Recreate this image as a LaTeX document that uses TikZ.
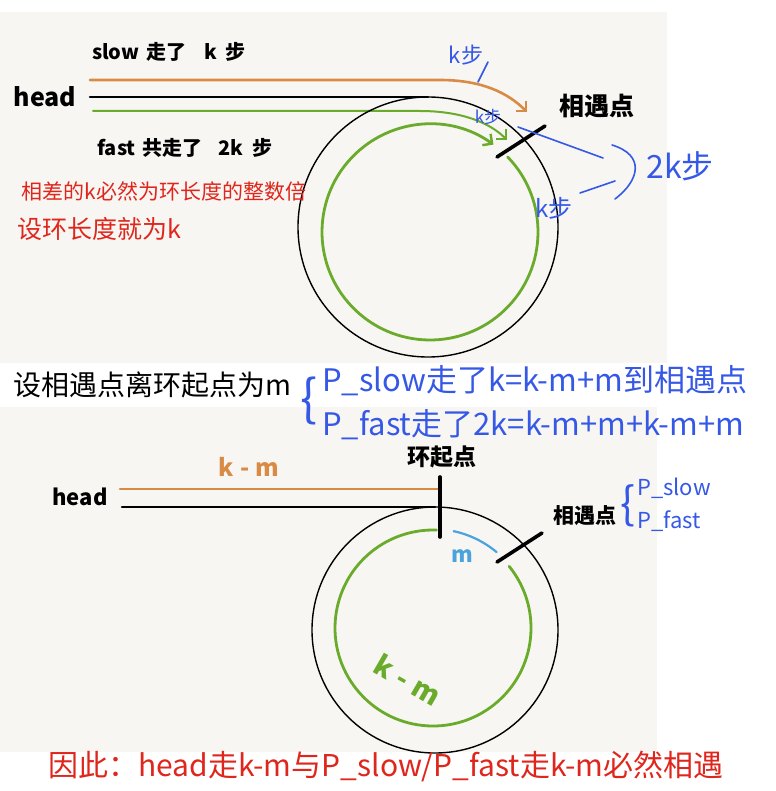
\documentclass[tikz,border=0pt]{standalone}
\usepackage{fontspec}
\setmainfont{Noto Sans CJK SC}
\usetikzlibrary{arrows.meta,positioning}

\definecolor{panelbg}{HTML}{F7F6F2}
\definecolor{pathorange}{HTML}{D98B46}
\definecolor{pathgreen}{HTML}{6AAB2C}
\definecolor{handblue}{HTML}{3558E6}
\definecolor{handred}{HTML}{E0261C}
\definecolor{arcblue}{HTML}{4AA3DF}
\newcommand{\fs}[1]{\fontsize{#1}{#1}\selectfont}

\begin{document}
\begin{tikzpicture}[x=1pt,y=-1pt]
\tikzset{
  printtxt/.style={inner sep=0pt,text=black},
  redhand/.style={inner sep=0pt,text=handred},
  bluehand/.style={inner sep=0pt,text=handblue},
  blackhand/.style={inner sep=0pt,text=black},
  orangeline/.style={draw=pathorange,line width=2.6pt,line cap=round},
  blackline/.style={draw=black,line width=2.6pt,line cap=round},
  greenline/.style={draw=pathgreen,line width=2pt,line cap=round},
  greenring/.style={draw=pathgreen,line width=2.8pt,line cap=round},
  blackring/.style={draw=black,line width=1.4pt},
  meettick/.style={draw=black,line width=3.6pt,line cap=round},
  bluestroke/.style={draw=handblue,line width=1.6pt,line cap=round},
  barb/.style={-{Straight Barb[length=7pt,width=14pt,line width=2.4pt]}}
}
\useasboundingbox[fill=white] (0,0) rectangle (775,791);
\fill[panelbg] (0,12) rectangle (667,363);
\fill[panelbg] (0,407) rectangle (657,752);

% top: slow and fast meet
\coordinate (c_top) at (428,227);
\coordinate (g_top) at (430,232);
\node[printtxt,font=\fs{20}\bfseries] (n_slow) at (169,52) {slow\hspace{7pt}走了\hspace{18pt}k\hspace{9pt}步};
\node[printtxt,font=\fs{25}\bfseries] (n_head) at (45,97) {head};
\node[printtxt,font=\fs{20}\bfseries] (n_fast) at (185,148) {fast\hspace{7pt}共走了\hspace{16pt}2k\hspace{9pt}步};
\coordinate (o_start) at (90,80);
\coordinate (o_bend) at (440,80);
\coordinate (o_end) at (527,112);
\draw[orangeline,barb] (o_start) -- (o_bend) .. controls (482,80) and (508,93) .. (o_end);
\coordinate (b_start) at (90,97);
\coordinate (b_end) at (428,97);
\draw[blackline] (b_start) -- (b_end);
\coordinate (f_start) at (93,111);
\coordinate (f_bend) at (420,111);
\coordinate (f_end) at (507,140);
\draw[greenline,barb] (f_start) -- (f_bend) .. controls (460,111) and (489,122) .. (f_end);
\draw[blackring] (c_top) circle[radius=130];
\draw[greenring,barb] (g_top) ++(-44:108) arc[start angle=-44,end angle=306,radius=108];
\coordinate (t_a) at (497,157);
\coordinate (t_b) at (545,126);
\draw[meettick] (t_a) -- (t_b);
\node[printtxt,font=\fs{25}\bfseries] (n_meet) at (597,106) {相遇点};

% top: hand notes
\node[bluehand,font=\fs{22}] (n_k1) at (466,55) {k步};
\coordinate (k1_a) at (478,82);
\coordinate (k1_b) at (488,62);
\draw[bluestroke] (k1_a) -- (k1_b);
\node[bluehand,font=\fs{17}] (n_k2) at (488,117) {k步};
\node[bluehand,font=\fs{24}] (n_k3) at (554,208) {k步};
\coordinate (l1_a) at (518,127);
\coordinate (l1_b) at (603,158);
\draw[bluestroke] (l1_a) -- (l1_b);
\coordinate (l2_a) at (580,193);
\coordinate (l2_b) at (615,181);
\draw[bluestroke] (l2_a) -- (l2_b);
\coordinate (br_a) at (612,145);
\coordinate (br_b) at (615,199);
\draw[bluestroke] (br_a) .. controls (645,155) and (640,180) .. (br_b);
\node[bluehand,font=\fs{32}] (n_2k) at (680,166) {2k步};
\node[redhand,font=\fs{21}] (n_red1) at (164,191) {相差的k必然为环长度的整数倍};
\node[redhand,font=\fs{25}] (n_red2) at (99,229) {设环长度就为k};

% middle notes
\node[blackhand,font=\fs{28}] (n_setm) at (152,385) {设相遇点离环起点为m};
\node[bluehand,font=\fs{50}] (n_brace) at (309,401) {\{};
\node[bluehand,font=\fs{31},anchor=west] (n_pslow) at (322,381) {P\_slow走了k=k-m+m到相遇点};
\node[bluehand,font=\fs{31},anchor=west] (n_pfast) at (322,425) {P\_fast走了2k=k-m+m+k-m+m};

% bottom: start of ring
\coordinate (c_bot) at (435,630);
\coordinate (g_bot) at (433,628);
\node[printtxt,font=\fs{22}\bfseries] (n_head2) at (80,497) {head};
\node[text=pathorange,inner sep=0pt,font=\fs{24}\bfseries] (n_km1) at (249,467) {k\hspace{6pt}-\hspace{6pt}m};
\node[printtxt,font=\fs{23}\bfseries] (n_start) at (442,457) {环起点};
\coordinate (o2_start) at (120,489);
\coordinate (o2_end) at (440,489);
\draw[orangeline] (o2_start) -- (o2_end);
\coordinate (b2_start) at (122,507);
\coordinate (b2_end) at (435,507);
\draw[blackline] (b2_start) -- (b2_end);
\draw[blackring] (c_bot) circle[radius=123];
\draw[greenring] (g_bot) ++(-39:98) arc[start angle=-39,end angle=272,radius=98];
\draw[draw=arcblue,line width=2.2pt,line cap=round] (g_bot) ++(-78:99) arc[start angle=-78,end angle=-50,radius=99];
\coordinate (s_a) at (440,477);
\coordinate (s_b) at (440,537);
\draw[meettick] (s_a) -- (s_b);
\coordinate (t2_a) at (497,562);
\coordinate (t2_b) at (542,533);
\draw[meettick] (t2_a) -- (t2_b);
\node[text=arcblue,inner sep=0pt,font=\fs{22}\bfseries] (n_m) at (462,556) {m};
\node[text=pathgreen,inner sep=0pt,font=\fs{28}\bfseries,rotate=-30] (n_km2) at (408,680) {k\hspace{8pt}-\hspace{8pt}m};
\node[printtxt,font=\fs{21}\bfseries] (n_meet2) at (585,516) {相遇点};
\node[bluehand,font=\fs{44}] (n_brace2) at (628,506) {\{};
\node[bluehand,font=\fs{22},anchor=west] (n_ps) at (637,488) {P\_slow};
\node[bluehand,font=\fs{22},anchor=west] (n_pf) at (637,521) {P\_fast};

% bottom note
\node[redhand,font=\fs{30}] (n_red3) at (386,766) {因此：head走k-m与P\_slow/P\_fast走k-m必然相遇};
\end{tikzpicture}
\end{document}
